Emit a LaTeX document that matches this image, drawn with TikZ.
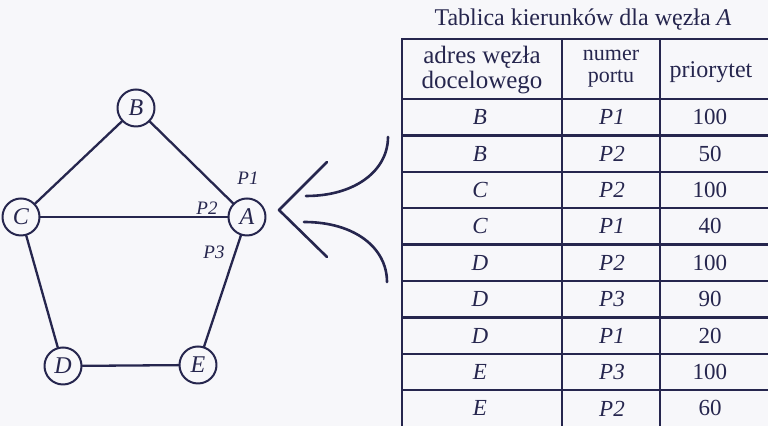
\documentclass[tikz,border=0pt]{standalone}
\usepackage{fontspec}
\setmainfont{Liberation Serif}
\definecolor{ink}{RGB}{38,38,78}
\definecolor{paper}{RGB}{247,247,250}
\begin{document}
\begin{tikzpicture}[x=0.5pt,y=-0.5pt,line join=round,line cap=round,
  vert/.style={circle,draw=ink,line width=1pt,minimum size=18.5pt,inner sep=0pt,
    font=\fontsize{12}{12}\selectfont\itshape,text=ink},
  edge/.style={draw=ink,line width=1.15pt},
  bigline/.style={draw=ink,line width=1.3pt},
  port/.style={font=\fontsize{9.5}{10}\selectfont\itshape,text=ink,inner sep=0pt},
  grid/.style={draw=ink,line width=1.25pt,line cap=rect},
  cell/.style={font=\fontsize{11.5}{12}\selectfont,text=ink,inner sep=0pt},
  icell/.style={cell,font=\fontsize{11.5}{12}\selectfont\itshape},
  head/.style={text=ink,inner sep=0pt,align=center}]
\fill[paper] (0,0) rectangle (768,426);
\useasboundingbox (0,0) rectangle (768,426);

% graph
\node[vert] (B) at (136,108) {B};
\node[vert] (C) at (21,217) {C};
\node[vert] (A) at (247,217) {A};
\node[vert] (D) at (63,366) {D};
\node[vert] (E) at (198,365) {E};
\draw[edge] (B) -- (C);
\draw[edge] (B) -- (A);
\draw[edge] (C) -- (A);
\draw[edge] (C) -- (D);
\draw[edge] (D) -- (E);
\draw[edge] (E) -- (A);
\node[port] (p1) at (248,178) {P1};
\node[port] (p2) at (207,208) {P2};
\node[port] (p3) at (214,252) {P3};

% arrow-like mark
\coordinate (ap) at (279,210);
\coordinate (au) at (327,162);
\coordinate (al) at (327,257);
\draw[bigline] (au) -- (ap) -- (al);
\coordinate (cu1) at (306,196);
\coordinate (cu2) at (388,137);
\draw[bigline] (cu1) .. controls (356,196) and (388,170) .. (cu2);
\coordinate (cl1) at (304,222);
\coordinate (cl2) at (387,282);
\draw[bigline] (cl1) .. controls (355,222) and (387,248) .. (cl2);

% title
\node[text=ink,inner sep=0pt,anchor=base,font=\fontsize{12}{13}\selectfont] (title) at (583,26)
  {Tablica kierunków dla węzła \textit{A}};

% table grid
\draw[grid] (402,39) -- (768,39);
\foreach \k in {0,...,8} {
  \draw[grid] (402,{99+36.4*\k}) -- (768,{99+36.4*\k});
}
\draw[grid] (402,39) -- (402,426);
\draw[grid] (562,39) -- (562,426);
\draw[grid] (660,39) -- (660,426);

% header
\node[head,font=\fontsize{12.5}{11}\selectfont] (h1) at (482,70) {adres węzła\\docelowego};
\node[head,font=\fontsize{11}{11}\selectfont] (h2) at (611,69) {numer\\portu};
\node[head,font=\fontsize{12}{13}\selectfont] (h3) at (711,72) {priorytet};

% rows
\foreach \a/\p/\v [count=\i] in {B/P1/100,B/P2/50,C/P2/100,C/P1/40,D/P2/100,D/P3/90,D/P1/20,E/P3/100,E/P2/60} {
  \node[icell] (ra\i) at (480,{99+36.4*(\i-0.5)}) {\a};
  \node[icell] (rp\i) at (612,{99+36.4*(\i-0.5)}) {\p};
  \node[cell]  (rv\i) at (710,{99+36.4*(\i-0.5)}) {\v};
}
\end{tikzpicture}
\end{document}
